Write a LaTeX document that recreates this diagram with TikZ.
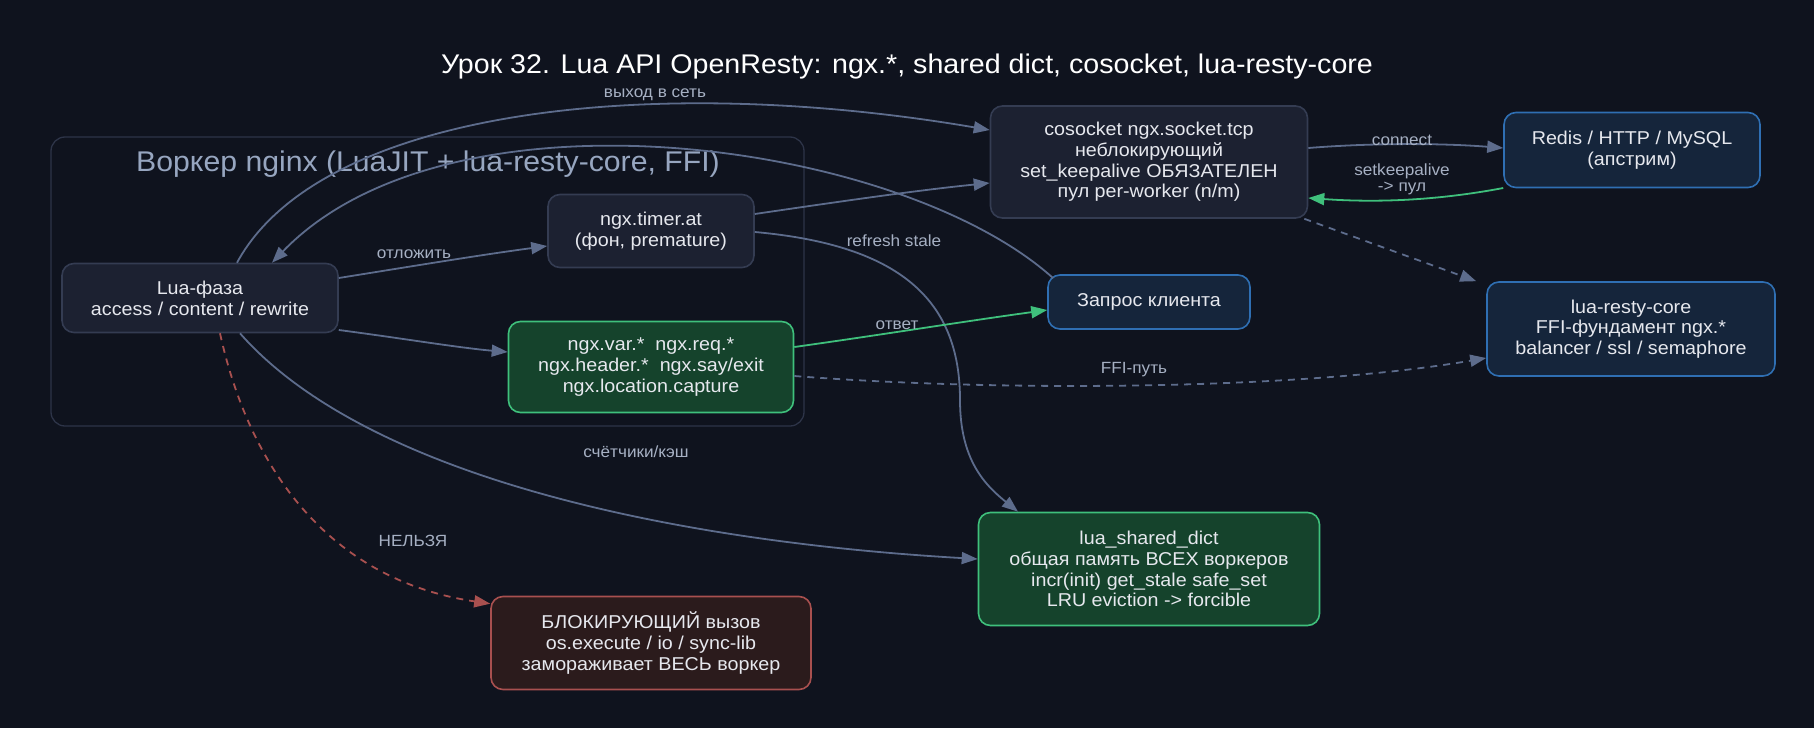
\documentclass[tikz,border=0pt]{standalone}
\usepackage{fontspec}
\setmainfont{Liberation Sans}[FakeStretch=1.06]
\usetikzlibrary{arrows.meta}
\definecolor{bgc}{HTML}{0F131E}
\definecolor{darkfill}{HTML}{1C2131}
\definecolor{darkline}{HTML}{343C52}
\definecolor{greenfill}{HTML}{15432C}
\definecolor{greenline}{HTML}{3FC07C}
\definecolor{bluefill}{HTML}{15253B}
\definecolor{blueline}{HTML}{2F6FB3}
\definecolor{redfill}{HTML}{2B1B1C}
\definecolor{redline}{HTML}{A8504F}
\definecolor{edgec}{HTML}{5D6C8C}
\definecolor{labc}{HTML}{A6B0C3}
\definecolor{txtc}{HTML}{E6E8EE}
\definecolor{clusterline}{HTML}{2D3448}
\definecolor{clusterlab}{HTML}{97A6C0}
\tikzset{
  box/.style={draw, rounded corners=12pt, line width=1.6pt, align=center, text=txtc,
    font=\fontsize{18.6}{20.7}\selectfont, inner sep=0pt},
  darkbox/.style={box, fill=darkfill, draw=darkline},
  greenbox/.style={box, fill=greenfill, draw=greenline},
  bluebox/.style={box, fill=bluefill, draw=blueline},
  redbox/.style={box, fill=redfill, draw=redline},
  conn/.style={draw=edgec, line width=1.8pt, -{Triangle[length=16pt,width=12pt]}},
  gconn/.style={conn, draw=greenline},
  dconn/.style={conn, dash pattern=on 7pt off 6pt},
  rconn/.style={conn, draw=redline, dash pattern=on 7pt off 6pt},
  elab/.style={text=labc, font=\fontsize{16.2}{16}\selectfont, align=center, inner sep=1pt},
}
\begin{document}
\begin{tikzpicture}[x=1pt,y=-1pt]
\fill[bgc] (0,0) rectangle (1814,728);
\useasboundingbox (0,0) rectangle (1814,728);
\node[text=white, font=\fontsize{27}{30}\selectfont] (title) at (907,67) {Урок 32. Lua API OpenResty: ngx.*, shared dict, cosocket, lua-resty-core};
% cluster
\draw[clusterline, line width=1.3pt, rounded corners=14pt] (51,137) rectangle (804,426);
\node[text=clusterlab, font=\fontsize{28.5}{30}\selectfont] (clab) at (428,164) {Воркер nginx (LuaJIT + lua-resty-core, FFI)};
% nodes
\node[darkbox, minimum width=276pt, minimum height=69pt] (lua) at (200,298) {Lua-фаза\\access / content / rewrite};
\node[darkbox, minimum width=206pt, minimum height=73pt] (timer) at (651,231) {ngx.timer.at\\(фон, premature)};
\node[greenbox, minimum width=285pt, minimum height=91pt] (api) at (651,367) {ngx.var.*\ \ ngx.req.*\\ngx.header.*\ \ ngx.say/exit\\ngx.location.capture};
\node[darkbox, minimum width=317pt, minimum height=112pt] (cosock) at (1149,162) {cosocket ngx.socket.tcp\\неблокирующий\\set\_keepalive ОБЯЗАТЕЛЕН\\пул per-worker (n/m)};
\node[bluebox, minimum width=256pt, minimum height=75pt] (redis) at (1632,150) {Redis / HTTP / MySQL\\(апстрим)};
\node[bluebox, minimum width=202pt, minimum height=54pt] (client) at (1149,302) {Запрос клиента};
\node[bluebox, minimum width=288pt, minimum height=94pt] (core) at (1631,329) {lua-resty-core\\FFI-фундамент ngx.*\\balancer / ssl / semaphore};
\node[greenbox, minimum width=341pt, minimum height=113pt] (dict) at (1149,569) {lua\_shared\_dict\\общая память ВСЕХ воркеров\\incr(init) get\_stale safe\_set\\LRU eviction -> forcible};
\node[redbox, minimum width=320pt, minimum height=93pt] (block) at (651,643) {БЛОКИРУЮЩИЙ вызов\\os.execute / io / sync-lib\\замораживает ВЕСЬ воркер};
% coordinates on borders
\coordinate (luaTop1) at ([xshift=37pt]lua.north);
\coordinate (luaTop2) at ([xshift=72pt]lua.north);
\coordinate (luaBot1) at ([xshift=20pt]lua.south);
\coordinate (luaBot2) at ([xshift=40pt]lua.south);
\coordinate (cliTL) at ([shift={(6pt,-4pt)}]client.north west);
% edges
\draw[conn] (luaTop1) .. controls (320,110) and (650,72) .. ([yshift=32pt]cosock.west);
\node[elab] (l1) at (655,95) {выход в сеть};
\draw[conn] (cliTL) .. controls (900,140) and (450,78) .. (luaTop2);
\draw[conn] ([yshift=20pt]lua.east) .. controls (420,265) and (480,255) .. ([yshift=-15pt]timer.west);
\node[elab] (l2) at (414,254) {отложить};
\draw[conn] ([yshift=-32pt]lua.east) .. controls (400,338) and (460,348) .. ([yshift=15pt]api.west);
\draw[conn] (luaBot2) .. controls (360,470) and (650,540) .. ([yshift=10pt]dict.west);
\node[elab] (l3) at (636,452) {счётчики/кэш};
\draw[rconn] (luaBot1) .. controls (250,470) and (330,580) .. ([yshift=-8pt]block.north west);
\node[elab] (l4) at (413,541) {НЕЛЬЗЯ};
\draw[conn] ([yshift=17pt]timer.east) .. controls (850,200) and (920,190) .. ([yshift=-21pt]cosock.west);
\draw[conn] ([yshift=-1pt]timer.east) .. controls (900,245) and (960,300) .. (960,400) .. controls (960,460) and (985,485) .. ([xshift=-131pt]dict.north);
\node[elab] (l5) at (894,241) {refresh stale};
\draw[gconn] ([yshift=20pt]api.east) .. controls (880,335) and (960,322) .. ([yshift=-8pt]client.west);
\node[elab] (l6) at (897,325) {ответ};
\draw[dconn] ([yshift=-9pt]api.east) .. controls (1000,392) and (1300,390) .. ([yshift=-29pt]core.west);
\node[elab] (l7) at (1134,370) {FFI-путь};
\draw[conn] ([yshift=14pt]cosock.east) .. controls (1370,143) and (1440,143) .. ([yshift=2pt]redis.west);
\node[elab] (l8) at (1402,140) {connect};
\draw[gconn] ([yshift=-38pt]redis.west) .. controls (1440,200) and (1380,203) .. ([yshift=-36pt]cosock.east);
\node[elab] (l9) at (1402,179) {setkeepalive\\-> пул};
\draw[dconn] ([xshift=-4pt]cosock.south east) -- ([xshift=-10pt]core.north west);
\end{tikzpicture}
\end{document}
